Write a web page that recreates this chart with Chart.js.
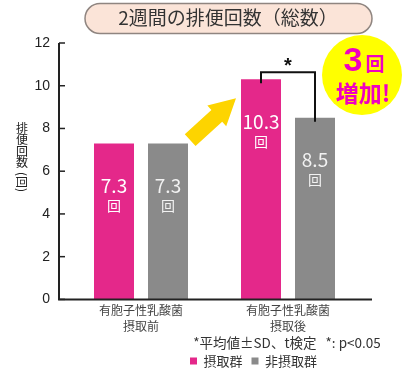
<!DOCTYPE html>
<html>
<head>
<meta charset="utf-8">
<script src="https://cdn.jsdelivr.net/npm/chart.js@4/dist/chart.umd.min.js"></script>
<style>
  html, body { margin: 0; padding: 0; background: #ffffff; }
  #wrap { position: relative; width: 413px; height: 380px; }
</style>
</head>
<body>
<div id="wrap"><canvas id="c"></canvas></div>
<script>
// ---- data ----
const categories = [['有胞子性乳酸菌', '摂取前'], ['有胞子性乳酸菌', '摂取後']];
const seriesNames = ['摂取群', '非摂取群'];
const intakeValues = [7.3, 10.3];
const nonIntakeValues = [7.3, 8.5];
const yTicks = [0, 2, 4, 6, 8, 10, 12];
const chartTitle = '2週間の排便回数（総数）';
const footnote = '*平均値±SD、t検定   *: p<0.05';
const yTitle = ['排', '便', '回', '数'];
const yTitleUnit = '(回)';
const unitLabel = '回';
const badgeNumber = '3';
const badgeText = '増加!';
const sigMark = '*';

const PINK = '#e4288a';
const GRAY = '#8a8a8a';
const JP = '"Noto Sans CJK JP", "Noto Sans", sans-serif';
const AR = '"Liberation Sans", Arial, sans-serif';

const decor = {
  id: 'decor',
  afterUpdate(chart) {
    const lg = chart.legend;
    if (lg && lg.legendHitBoxes && lg.legendHitBoxes.length) {
      const dx = 190 - lg.legendHitBoxes[0].left;
      const dy = 345.5 - lg.top;
      lg.left += dx; lg.right += dx; lg.top += dy; lg.bottom += dy;
    }
    for (const b of chart.boxes) {
      if (b === lg) continue;
      if (b.options && b.options.text === footnote) {
        const dx = 287 - (b.left + b.right) / 2;
        const dy = 334.4 - b.top;
        b.left += dx; b.right += dx; b.top += dy; b.bottom += dy;
      } else if (b === chart.titleBlock) {
        const dx = 228 - (b.left + b.right) / 2;
        b.left += dx; b.right += dx;
      }
    }
  },
  beforeDraw(chart) {
    const ctx = chart.ctx;
    const tb = chart.titleBlock;
    const cx = (tb.left + tb.right) / 2;
    const x0 = cx - 143, x1 = cx + 144, y0 = 3.5, y1 = 33.5, r = 15;
    ctx.save();
    ctx.beginPath();
    ctx.moveTo(x0 + r, y0);
    ctx.lineTo(x1 - r, y0);
    ctx.arc(x1 - r, y0 + r, r, -Math.PI / 2, Math.PI / 2);
    ctx.lineTo(x0 + r, y1);
    ctx.arc(x0 + r, y0 + r, r, Math.PI / 2, Math.PI * 1.5);
    ctx.closePath();
    ctx.fillStyle = '#fbe4d8';
    ctx.fill();
    ctx.lineWidth = 1.5;
    ctx.strokeStyle = '#8f8580';
    ctx.stroke();
    ctx.restore();
  },
  afterDraw(chart) {
    const ctx = chart.ctx;
    const ys = chart.scales.y;
    const area = chart.chartArea;
    const axX = area.left - 8.5;
    const yTop = ys.getPixelForValue(yTicks[yTicks.length - 1]);
    const yBot = ys.getPixelForValue(0);
    ctx.save();
    // axes
    ctx.strokeStyle = '#222';
    ctx.lineWidth = 2;
    ctx.beginPath();
    ctx.moveTo(axX, yTop);
    ctx.lineTo(axX, yBot);
    ctx.lineTo(area.right + 10.5, yBot);
    ctx.stroke();
    ctx.lineWidth = 1.5;
    for (const t of yTicks) {
      const py = ys.getPixelForValue(t);
      ctx.beginPath();
      ctx.moveTo(axX, py);
      ctx.lineTo(axX + 6, py);
      ctx.stroke();
    }
    // y title (vertical, upright chars)
    ctx.fillStyle = '#222';
    ctx.font = '12px ' + JP;
    ctx.textAlign = 'center';
    ctx.textBaseline = 'middle';
    yTitle.forEach((ch, i) => ctx.fillText(ch, 22, 128 + i * 11.5));
    ctx.save();
    ctx.translate(22, 182);
    ctx.rotate(Math.PI / 2);
    ctx.font = '12px ' + JP;
    ctx.fillText(yTitleUnit, 0, 0);
    ctx.restore();

    // value labels inside bars
    const sets = [intakeValues, nonIntakeValues];
    sets.forEach((vals, di) => {
      const meta = chart.getDatasetMeta(di);
      meta.data.forEach((bar, i) => {
        ctx.fillStyle = di === 0 ? '#ffffff' : '#f2f2f2';
        ctx.textAlign = 'center';
        ctx.textBaseline = 'middle';
        ctx.font = '19px ' + JP;
        ctx.fillText(vals[i].toFixed(1), bar.x, bar.y + 42);
        ctx.font = '14px ' + JP;
        ctx.fillText(unitLabel, bar.x, bar.y + 62);
      });
    });

    // significance bracket
    const p2 = chart.getDatasetMeta(0).data[1];
    const g2 = chart.getDatasetMeta(1).data[1];
    const top = p2.y - 7;
    ctx.strokeStyle = '#111';
    ctx.lineWidth = 2;
    ctx.beginPath();
    ctx.moveTo(p2.x, p2.y + 4);
    ctx.lineTo(p2.x, top);
    ctx.lineTo(g2.x, top);
    ctx.lineTo(g2.x, g2.y + 4);
    ctx.stroke();
    ctx.fillStyle = '#111';
    ctx.font = 'bold 20px ' + AR;
    ctx.textAlign = 'center';
    ctx.textBaseline = 'middle';
    ctx.fillText(sigMark, (p2.x + g2.x) / 2, top - 6);

    // yellow arrow
    const tipX = p2.x - p2.width / 2 - 5, tipY = p2.y + 19;
    const ang = Math.atan2(-41, 45);
    ctx.save();
    ctx.translate(tipX, tipY);
    ctx.rotate(ang);
    ctx.beginPath();
    ctx.moveTo(0, 0);
    ctx.lineTo(-26, -14);
    ctx.lineTo(-26, -8);
    ctx.lineTo(-62, -8);
    ctx.lineTo(-62, 8);
    ctx.lineTo(-26, 8);
    ctx.lineTo(-26, 14);
    ctx.closePath();
    ctx.fillStyle = '#fdd400';
    ctx.fill();
    ctx.restore();

    // badge circle
    const bx = g2.x + 47, by = 75;
    ctx.beginPath();
    ctx.arc(bx, by, 40, 0, Math.PI * 2);
    ctx.fillStyle = '#ffff00';
    ctx.fill();
    ctx.fillStyle = '#f000c0';
    ctx.textBaseline = 'middle';
    ctx.textAlign = 'center';
    ctx.font = 'bold 34px ' + AR;
    ctx.fillText(badgeNumber, bx - 9, by - 13);
    ctx.font = 'bold 19px ' + JP;
    ctx.fillText(unitLabel, bx + 13, by - 11);
    ctx.font = 'bold 23px ' + JP;
    ctx.fillText(badgeText, bx + 1, by + 18);
    ctx.restore();
  }
};

new Chart(document.getElementById('c'), {
  type: 'bar',
  data: {
    labels: categories,
    datasets: [
      { label: seriesNames[0], data: intakeValues, backgroundColor: PINK, borderWidth: 0 },
      { label: seriesNames[1], data: nonIntakeValues, backgroundColor: GRAY, borderWidth: 0 }
    ]
  },
  options: {
    responsive: true,
    maintainAspectRatio: false,
    animation: false,
    devicePixelRatio: 1,
    categoryPercentage: 108 / 147,
    barPercentage: 40 / 54,
    layout: { padding: { left: 0, right: 51.5, top: 0, bottom: -5.6 } },
    scales: {
      x: {
        grid: { display: false, drawTicks: false },
        border: { display: false },
        ticks: {
          color: '#444',
          font: { family: JP, size: 12, lineHeight: '16px' },
          padding: 3,
          maxRotation: 0,
          autoSkip: false
        }
      },
      y: {
        min: yTicks[0],
        max: yTicks[yTicks.length - 1],
        afterBuildTicks: (s) => { s.ticks = yTicks.map(v => ({ value: v })); },
        grid: { display: false, drawTicks: false },
        border: { display: false },
        ticks: {
          color: '#222',
          font: { family: AR, size: 14 },
          padding: 17.5
        },
        afterFit: (s) => { s.width = 67.5; }
      }
    },
    plugins: {
      title: {
        display: true,
        text: chartTitle,
        color: '#333',
        font: { family: JP, size: 19, weight: 'normal', lineHeight: 1.2 },
        padding: { top: 6.6, bottom: 13.6 }
      },
      subtitle: {
        display: true,
        position: 'bottom',
        text: footnote,
        color: '#333',
        font: { family: JP, size: 13.5, weight: 'normal', lineHeight: 1.2 },
        padding: 0
      },
      legend: {
        display: true,
        position: 'bottom',
        labels: {
          boxWidth: 7,
          boxHeight: 7,
          padding: 9,
          color: '#333',
          font: { family: JP, size: 13 }
        }
      },
      tooltip: { enabled: false }
    }
  },
  plugins: [decor]
});
</script>
</body>
</html>
